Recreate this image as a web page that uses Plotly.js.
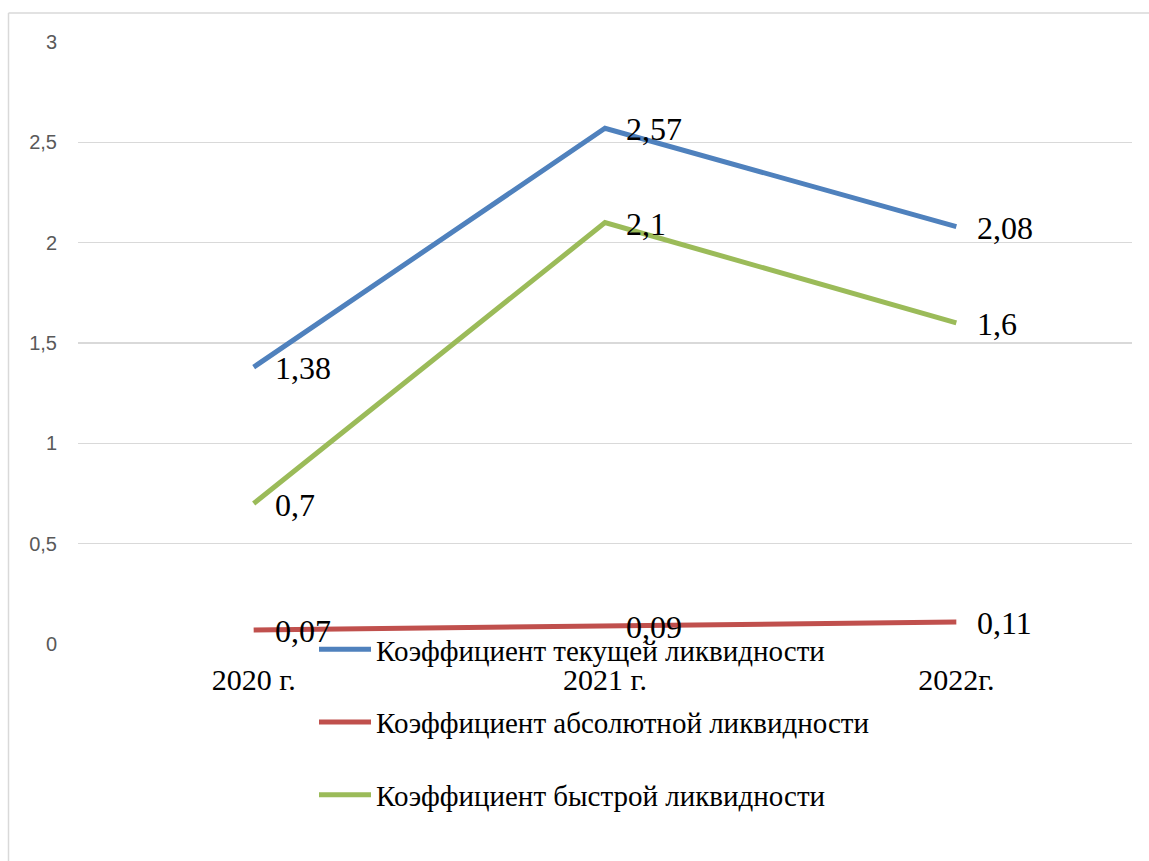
<!DOCTYPE html>
<html>
<head>
<meta charset="utf-8">
<script src="https://cdn.plot.ly/plotly-3.0.1.min.js"></script>
<style>html,body{margin:0;padding:0;background:#fff;}#chart{width:1149px;height:861px;}</style>
</head>
<body>
<div id="chart"></div>
<script>
const categories = ["2020 г.", "2021 г.", "2022г."];
const currentRatio = [1.38, 2.57, 2.08];
const absoluteRatio = [0.07, 0.09, 0.11];
const quickRatio = [0.7, 2.1, 1.6];
const seriesNames = ["Коэффициент текущей ликвидности", "Коэффициент абсолютной ликвидности", "Коэффициент быстрой ликвидности"];
const seriesColors = ["#4F81BD", "#C0504D", "#9BBB59"];
const yTickVals = [0, 0.5, 1, 1.5, 2, 2.5, 3];
const yTickText = ["0", "0,5", "1", "1,5", "2", "2,5", "3"];

const seriesValues = [currentRatio, absoluteRatio, quickRatio];
const fmt = v => String(v).replace('.', ',');

const traces = seriesValues.map((vals, i) => ({
  type: 'scatter', mode: 'lines', x: categories, y: vals, name: seriesNames[i],
  legendgroup: 'g' + i,
  line: {color: seriesColors[i], width: 5},
  hoverinfo: 'none'
}));

const annotations = [];
seriesValues.forEach((vals, i) => {
  vals.forEach((v, j) => {
    annotations.push({
      x: categories[j], y: v, xref: 'x', yref: 'y', text: fmt(v), showarrow: false,
      xanchor: 'left', yanchor: 'middle', xshift: 19, yshift: -1,
      font: {family: 'Liberation Serif, Times New Roman, serif', size: 32, color: '#000'}
    });
  });
});

const W = 1054, H = 602, L = 78, T = 42;
const px = x => (x - L) / W;
const py = y => (T + H - y) / H;

const shapes = [
  {type: 'line', xref: 'paper', yref: 'paper', x0: px(8.5), x1: px(1160), y0: py(13), y1: py(13), line: {color: '#D9D9D9', width: 1.5}},
  {type: 'line', xref: 'paper', yref: 'paper', x0: px(8.5), x1: px(8.5), y0: py(13), y1: py(870), line: {color: '#D9D9D9', width: 1.5}}
];

const layout = {
  width: 1149, height: 861,
  margin: {l: 78, r: 17, t: 42, b: 217, pad: 0},
  paper_bgcolor: '#fff', plot_bgcolor: '#fff',
  showlegend: true,
  legend: {
    x: px(314), y: py(624), xanchor: 'left', yanchor: 'top',
    orientation: 'v', traceorder: 'grouped', tracegroupgap: 32,
    itemwidth: 52,
    font: {family: 'Liberation Serif, Times New Roman, serif', size: 29, color: '#000'},
    bgcolor: 'rgba(0,0,0,0)', borderwidth: 0
  },
  xaxis: {
    type: 'category', range: [-0.5, 2.5], showgrid: false, zeroline: false, showline: false, ticks: '',
    ticklabelstandoff: 15,
    tickfont: {family: 'Liberation Serif, Times New Roman, serif', size: 30, color: '#000'},
    fixedrange: true
  },
  yaxis: {
    range: [0, 3], tickvals: yTickVals, ticktext: yTickText,
    showgrid: true, gridcolor: '#D9D9D9', gridwidth: 1.5,
    zeroline: false, showline: false, ticks: '',
    ticklabelstandoff: 20,
    tickfont: {family: 'Liberation Sans, Arial, sans-serif', size: 20, color: '#595959'},
    fixedrange: true
  },
  annotations: annotations,
  shapes: shapes
};

Plotly.newPlot('chart', traces, layout, {displayModeBar: false, staticPlot: true});
</script>
</body>
</html>
